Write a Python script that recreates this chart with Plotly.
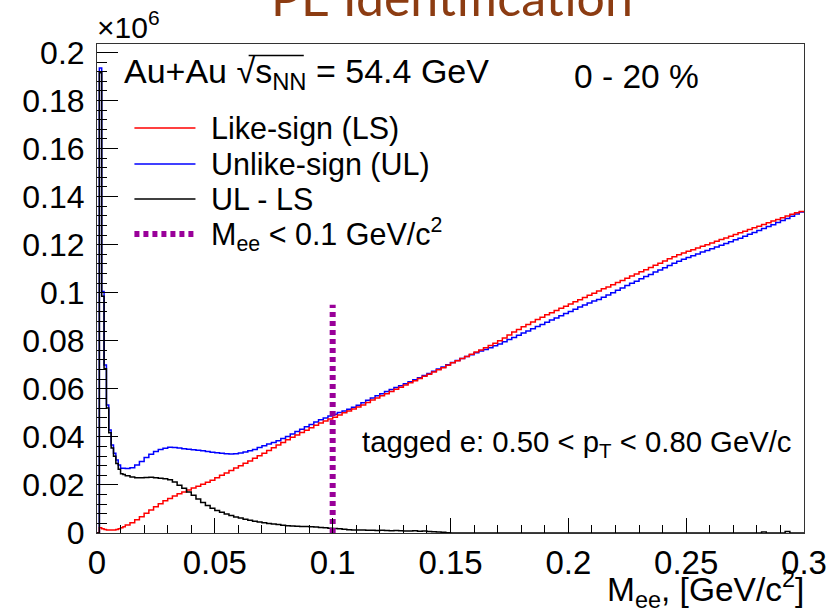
import numpy as np
import plotly.graph_objects as go

# ---------------- data (units of 10^6 counts) ----------------
# bin edges: 0.001 GeV/c^2 bins up to 0.012, then 0.002 GeV/c^2 bins up to 0.3
fine_edges = np.round(np.arange(0.0, 0.012 + 1e-9, 0.001), 4)
coarse_edges = np.round(np.arange(0.014, 0.3 + 1e-9, 0.002), 4)
bin_edges = np.concatenate([fine_edges, coarse_edges])

like_sign = [
    # 0.000 - 0.012 (0.001 bins)
    0.0, 0.0022, 0.0018, 0.0015, 0.0013, 0.0012, 0.0012, 0.0013, 0.0015, 0.0018, 0.0022, 0.0026,
    # 0.012 - 0.300 (0.002 bins)
    0.0033, 0.0043, 0.0055, 0.0068, 0.0082, 0.0096, 0.0109, 0.0122, 0.0134, 0.0144,
    0.0154, 0.0163, 0.0171, 0.0179, 0.0187, 0.0195, 0.0203, 0.0211, 0.0220, 0.0230,
    0.0240, 0.0250, 0.0260, 0.0270, 0.0280, 0.0290, 0.0300, 0.0311, 0.0321, 0.0332,
    0.0343, 0.0355, 0.0366, 0.0377, 0.0388, 0.0398, 0.0408, 0.0418, 0.0428, 0.0438,
    0.0448, 0.0458, 0.0466, 0.0474, 0.0482, 0.0491, 0.0500, 0.0508, 0.0516, 0.0524,
    0.0533, 0.0543, 0.0553, 0.0562, 0.0571, 0.0580, 0.0589, 0.0598, 0.0607, 0.0616,
    0.0625, 0.0634, 0.0643, 0.0652, 0.0661, 0.0670, 0.0679, 0.0688, 0.0698, 0.0708,
    0.0717, 0.0726, 0.0735, 0.0744, 0.0753, 0.0762, 0.0771, 0.0780, 0.0790, 0.0800,
    0.0812, 0.0824, 0.0836, 0.0847, 0.0858, 0.0868, 0.0878, 0.0888, 0.0898, 0.0908,
    0.0917, 0.0926, 0.0935, 0.0944, 0.0953, 0.0962, 0.0971, 0.0980, 0.0989, 0.0998,
    0.1007, 0.1016, 0.1024, 0.1033, 0.1042, 0.1051, 0.1060, 0.1069, 0.1078, 0.1087,
    0.1096, 0.1105, 0.1114, 0.1123, 0.1132, 0.1141, 0.1150, 0.1158, 0.1165, 0.1172,
    0.1179, 0.1186, 0.1193, 0.1200, 0.1207, 0.1214, 0.1221, 0.1228, 0.1235, 0.1242,
    0.1249, 0.1256, 0.1263, 0.1270, 0.1277, 0.1284, 0.1291, 0.1298, 0.1305, 0.1312,
    0.1319, 0.1326, 0.1333, 0.1338,
]

unlike_sign = [
    0.0, 0.1935, 0.1005, 0.0699, 0.0533, 0.0429, 0.0366, 0.0332, 0.0304, 0.0283, 0.0269, 0.0269,
    0.0268, 0.0272, 0.0283, 0.0298, 0.0314, 0.0328, 0.0339, 0.0347, 0.0353, 0.0357,
    0.0356, 0.0354, 0.0351, 0.0349, 0.0346, 0.0344, 0.0342, 0.0339, 0.0336, 0.0334,
    0.0332, 0.0330, 0.0329, 0.0330, 0.0333, 0.0337, 0.0342, 0.0348, 0.0356, 0.0363,
    0.0370, 0.0377, 0.0384, 0.0393, 0.0402, 0.0412, 0.0422, 0.0432, 0.0442, 0.0452,
    0.0462, 0.0471, 0.0479, 0.0487, 0.0494, 0.0501, 0.0508, 0.0515, 0.0523, 0.0532,
    0.0542, 0.0552, 0.0562, 0.0571, 0.0580, 0.0589, 0.0597, 0.0605, 0.0613, 0.0621,
    0.0629, 0.0638, 0.0646, 0.0655, 0.0664, 0.0673, 0.0682, 0.0691, 0.0700, 0.0710,
    0.0718, 0.0726, 0.0734, 0.0742, 0.0750, 0.0757, 0.0764, 0.0771, 0.0779, 0.0787,
    0.0796, 0.0805, 0.0814, 0.0823, 0.0832, 0.0841, 0.0850, 0.0859, 0.0868, 0.0877,
    0.0886, 0.0895, 0.0904, 0.0913, 0.0922, 0.0931, 0.0940, 0.0949, 0.0957, 0.0965,
    0.0972, 0.0981, 0.0990, 0.1000, 0.1010, 0.1020, 0.1030, 0.1039, 0.1048, 0.1058,
    0.1067, 0.1076, 0.1086, 0.1095, 0.1104, 0.1113, 0.1123, 0.1131, 0.1139, 0.1147,
    0.1154, 0.1161, 0.1169, 0.1176, 0.1183, 0.1190, 0.1198, 0.1205, 0.1212, 0.1220,
    0.1227, 0.1235, 0.1243, 0.1251, 0.1259, 0.1267, 0.1275, 0.1283, 0.1292, 0.1300,
    0.1309, 0.1318, 0.1328, 0.1336,
]

ul_minus_ls = [
    0.0, 0.1915, 0.0985, 0.0684, 0.0520, 0.0417, 0.0354, 0.0319, 0.0289, 0.0265, 0.0247, 0.0243,
    0.0238, 0.0233, 0.0230, 0.0230, 0.0231, 0.0232, 0.0230, 0.0228, 0.0226, 0.0222,
    0.0212, 0.0199, 0.0186, 0.0171, 0.0157, 0.0142, 0.0127, 0.0114, 0.0103, 0.0094,
    0.0086, 0.0079, 0.0073, 0.0067, 0.0062, 0.0057, 0.0053, 0.0049, 0.0046, 0.0043,
    0.0040, 0.0037, 0.0035, 0.0032, 0.0030, 0.0029, 0.0028, 0.0027, 0.0027, 0.0026,
    0.0025, 0.0023, 0.0022, 0.0020, 0.0019, 0.0018, 0.0016, 0.0014, 0.0013, 0.0012,
    0.0012, 0.0011, 0.0011, 0.0010, 0.0011, 0.0010, 0.0009, 0.0010, 0.0009, 0.0008,
    0.0008, 0.0009, 0.0007, 0.0008, 0.0006, 0.0005, 0.0004, 0.0003, 0.0001, 0.0,
    0, 0, 0, 0, 0, 0, 0, 0, 0, 0,
    0, 0, 0, 0, 0, 0, 0, 0, 0, 0,
    0, 0, 0, 0, 0, 0, 0, 0, 0, 0,
    0, 0, 0, 0, 0, 0, 0, 0, 0, 0,
    0, 0, 0, 0, 0, 0, 0, 0, 0, 0,
    0, 0, 0, 0, 0, 0, 0, 0, 0, 0,
    0, 0, 0, 0, 0, 0.0004, 0, 0, 0, 0,
    0.0006, 0, 0, 0,
]

cut_mass = [0.1, 0.1]
cut_line = [0.0, 0.095]

x_tick_vals = [0, 0.05, 0.1, 0.15, 0.2, 0.25, 0.3]
x_tick_text = ["0", "0.05", "0.1", "0.15", "0.2", "0.25", "0.3"]
y_tick_vals = [0, 0.02, 0.04, 0.06, 0.08, 0.1, 0.12, 0.14, 0.16, 0.18, 0.2]
y_tick_text = ["0", "0.02", "0.04", "0.06", "0.08", "0.1", "0.12", "0.14", "0.16", "0.18", "0.2"]

legend_labels = ["Like-sign (LS)", "Unlike-sign (UL)", "UL - LS", "M<sub>ee</sub> &lt; 0.1 GeV/c<sup>2</sup>"]

# ---------------- layout geometry (pixels) ----------------
W, H = 839, 612
L, R, T, B = 97, 815, 44, 533


def px(xp):
    return (xp - L) / (R - L)


def py(yp):
    return (B - yp) / (B - T)


FONT = "Arial, Liberation Sans, sans-serif"
RED, BLUE, BLACK, MAG = "#ff0000", "#0000ff", "#000000", "#990099"


def step_xy(vals):
    x = list(bin_edges)
    y = list(vals) + [vals[-1]]
    return x, y


fig = go.Figure()
for vals, col in [(unlike_sign, BLUE), (like_sign, RED), (ul_minus_ls, BLACK)]:
    xs, ys = step_xy(vals)
    fig.add_trace(go.Scatter(x=xs, y=ys, mode="lines", line=dict(color=col, width=1.5, shape="hv"),
                             hoverinfo="skip", showlegend=False))

fig.add_trace(go.Scatter(x=cut_mass, y=cut_line, mode="lines",
                         line=dict(color=MAG, width=6, dash="5px,4px"), hoverinfo="skip", showlegend=False))

fig.update_layout(
    width=W, height=H,
    margin=dict(l=L, r=W - R, t=T, b=H - B, pad=0),
    paper_bgcolor="white", plot_bgcolor="white",
    showlegend=False,
    font=dict(family=FONT, color="black"),
    xaxis=dict(range=[0, 0.3], tickvals=x_tick_vals, ticktext=x_tick_text,
               ticks="inside", ticklen=15, tickwidth=1, tickcolor="black",
               showline=True, linecolor="#333333", linewidth=1, mirror=True,
               showgrid=False, zeroline=False, tickfont=dict(size=33, family=FONT),
               ticklabelstandoff=0,
               minor=dict(ticks="inside", ticklen=8, tickcolor="black", tickwidth=1,
                          dtick=0.01, tick0=0, showgrid=False)),
    yaxis=dict(range=[0, 0.2035], tickvals=y_tick_vals, ticktext=y_tick_text,
               ticks="inside", ticklen=21, tickwidth=1, tickcolor="black",
               showline=True, linecolor="#333333", linewidth=1, mirror=True,
               showgrid=False, zeroline=False, tickfont=dict(size=32, family=FONT),
               ticklabelstandoff=5,
               minor=dict(ticks="inside", ticklen=10, tickcolor="black", tickwidth=1,
                          dtick=0.004, tick0=0, showgrid=False)),
)

ann = []
# cut-off slide title
ann.append(dict(text="PE Identification", x=px(272), y=py(-3), xref="paper", yref="paper",
                xanchor="left", yanchor="middle", showarrow=False,
                font=dict(family="Lato, Open Sans, sans-serif", size=50, color="#8c3c12")))
# exponent label
ann.append(dict(text="×10<sup>6</sup>", x=px(95), y=py(25), xref="paper", yref="paper",
                xanchor="left", yanchor="middle", showarrow=False, font=dict(size=30)))
# collision label
ann.append(dict(text="Au+Au √s<sub>NN</sub> = 54.4 GeV", x=px(122), y=py(73), xref="paper", yref="paper",
                xanchor="left", yanchor="middle", showarrow=False, font=dict(size=34)))
ann.append(dict(text="0 - 20 %", x=px(645), y=py(76), xref="paper", yref="paper",
                xanchor="center", yanchor="middle", showarrow=False, font=dict(size=33.5)))
ann.append(dict(text="tagged e: 0.50 &lt; p<sub>T</sub> &lt; 0.80 GeV/c", x=px(364), y=py(443),
                xref="paper", yref="paper", xanchor="left", yanchor="middle", showarrow=False,
                font=dict(size=29.3)))
# x-axis title
ann.append(dict(text="M<sub>ee</sub>, [GeV/c<sup>2</sup>]", x=px(817), y=py(589), xref="paper", yref="paper",
                xanchor="right", yanchor="middle", showarrow=False, font=dict(size=33.5)))

shapes = []
# overline of the square root
shapes.append(dict(type="line", xref="paper", yref="paper", x0=px(251), x1=px(307), y0=py(55.5), y1=py(55.5),
                   line=dict(color="black", width=1.5)))

# legend
leg_rows = [128, 164, 199, 234]
leg_styles = [dict(color=RED, width=1.5), dict(color=BLUE, width=1.5), dict(color=BLACK, width=1.5),
              dict(color=MAG, width=6, dash="5px,4px")]
for row, lab, sty in zip(leg_rows, legend_labels, leg_styles):
    shapes.append(dict(type="line", xref="paper", yref="paper", x0=px(135), x1=px(197),
                       y0=py(row), y1=py(row), line=sty))
    ann.append(dict(text=lab, x=px(211), y=py(row), xref="paper", yref="paper",
                    xanchor="left", yanchor="middle", showarrow=False, font=dict(size=30.5)))

fig.update_layout(annotations=ann, shapes=shapes)
fig.write_html("out.html")
